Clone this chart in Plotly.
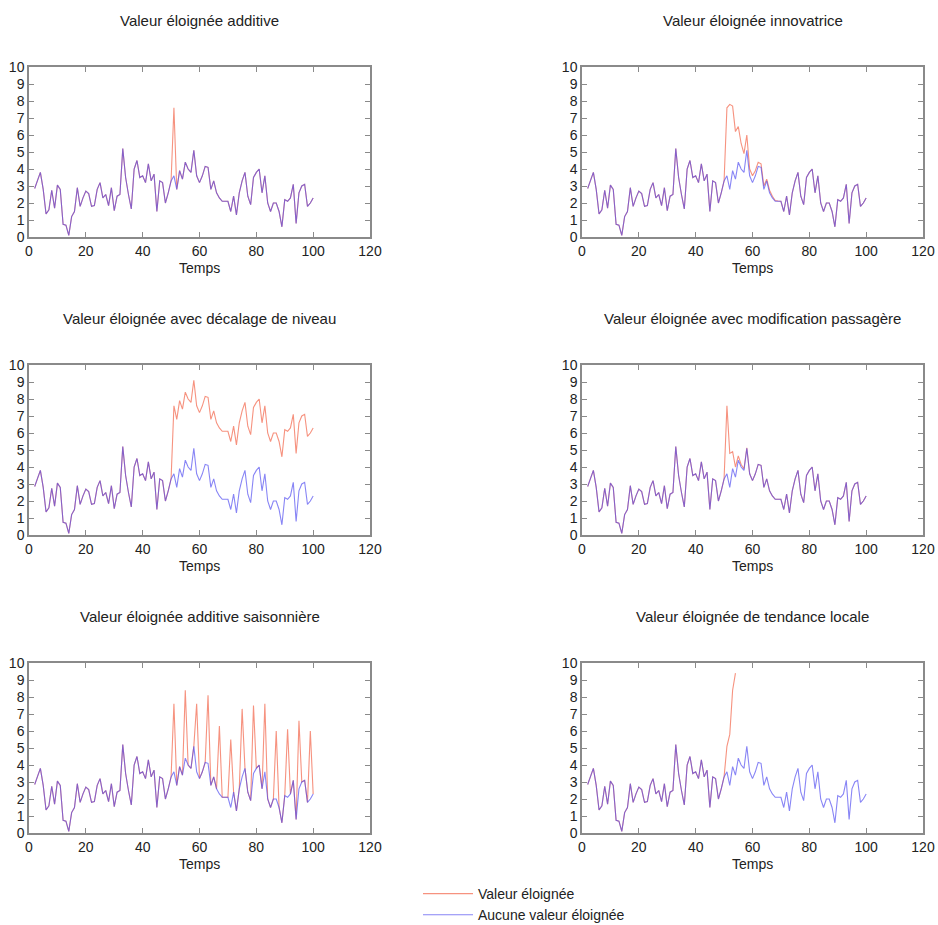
import plotly.graph_objects as go
from plotly.subplots import make_subplots

# time axis (t = 2 .. 100)
temps = list(range(2, 101))

# series without outlier
aucune = [
    2.85, 3.3, 3.8, 2.8, 1.35, 1.6, 2.75, 1.7, 3.05, 2.8,      # t2-11
    0.75, 0.7, 0.1, 1.2, 1.5, 2.9, 1.8, 2.3, 2.7, 2.55,       # t12-21
    1.8, 1.85, 2.8, 3.2, 2.3, 2.5, 1.85, 2.9, 1.55, 2.4,      # t22-31
    2.5, 5.2, 3.5, 2.5, 1.65, 4.0, 4.5, 3.5, 3.6, 3.2,        # t32-41
    4.3, 3.3, 3.7, 1.5, 3.3, 3.2, 2.0, 2.6, 3.3, 3.6,         # t42-51
    2.8, 3.9, 3.4, 4.4, 4.0, 3.8, 5.1, 3.6, 3.2, 3.6,         # t52-61
    4.15, 4.1, 2.8, 3.3, 2.6, 2.3, 2.1, 2.1, 2.1, 1.5,        # t62-71
    2.4, 1.3, 2.6, 3.3, 3.8, 2.4, 1.9, 3.5, 3.8, 4.0,         # t72-81
    2.6, 3.6, 2.0, 1.5, 2.0, 2.0, 1.5, 0.6, 2.2, 2.1,         # t82-91
    2.3, 3.1, 0.8, 2.6, 3.0, 3.1, 1.8, 2.0, 2.3,              # t92-100
]

# series with outlier, one per panel
additive = aucune[:49] + [7.6] + aucune[50:]
innovatrice = aucune[:49] + [
    7.6, 7.8, 7.7, 6.2, 6.5, 5.5, 4.9, 6.0, 4.0, 3.6,
    3.9, 4.4, 4.3, 3.0, 3.4, 2.75, 2.4, 2.15, 2.12,
] + aucune[68:]
decalage = aucune[:49] + [
    7.6, 6.8, 7.9, 7.4, 8.4, 8.0, 7.8, 9.1, 7.6, 7.2,
    7.6, 8.15, 8.1, 6.8, 7.3, 6.6, 6.3, 6.1, 6.1, 6.1,
    5.5, 6.4, 5.3, 6.6, 7.3, 7.8, 6.4, 5.9, 7.5, 7.8,
    8.0, 6.6, 7.6, 6.0, 5.5, 6.0, 6.0, 5.5, 4.6, 6.2,
    6.1, 6.3, 7.1, 4.8, 6.6, 7.0, 7.1, 5.8, 6.0, 6.3,
]
passagere = aucune[:49] + [7.6, 4.8, 4.9, 4.0, 4.65, 4.15, 3.9, 5.13] + aucune[57:]
saisonniere = aucune[:49] + [
    7.6, 2.8, 3.9, 3.4, 8.4, 4.0, 3.8, 5.1, 7.6, 3.2,
    3.6, 4.15, 8.1, 2.8, 3.3, 2.6, 6.3, 2.1, 2.1, 2.1,
    5.5, 2.4, 1.3, 2.6, 7.3, 3.8, 2.4, 1.9, 7.5, 3.8,
    4.0, 2.6, 7.6, 2.0, 1.5, 2.0, 6.0, 1.5, 0.6, 2.2,
    6.1, 2.3, 3.1, 0.8, 6.6, 3.0, 3.1, 1.8, 6.0, 2.3,
]
tendance = aucune[:49] + [5.1, 5.8, 8.4, 9.4]

titres = [
    "Valeur éloignée additive",
    "Valeur éloignée innovatrice",
    "Valeur éloignée avec décalage de niveau",
    "Valeur éloignée avec modification passagère",
    "Valeur éloignée additive saisonnière",
    "Valeur éloignée de tendance locale",
]
series_ve = [additive, innovatrice, decalage, passagere, saisonniere, tendance]

RED = "rgba(242,104,78,0.72)"
BLUE = "rgba(75,70,240,0.66)"
FONT = "Liberation Sans, Arial, sans-serif"

W, H = 938, 925
# plot areas in pixels (left, right) and (top, bottom)
cols_px = [(29, 370), (582, 923)]
rows_px = [(67, 237), (365, 535), (663, 833)]

fig = make_subplots(rows=3, cols=2)

for i, (titre, ve) in enumerate(zip(titres, series_ve)):
    r, c = i // 2 + 1, i % 2 + 1
    fig.add_trace(go.Scatter(
        x=temps[:len(ve)], y=ve, mode="lines", name="Valeur éloignée",
        line=dict(color=RED, width=1.1), showlegend=(i == 0),
    ), row=r, col=c)
    fig.add_trace(go.Scatter(
        x=temps, y=aucune, mode="lines", name="Aucune valeur éloignée",
        line=dict(color=BLUE, width=1.1), showlegend=(i == 0),
    ), row=r, col=c)

    x0, x1 = cols_px[c - 1]
    y0, y1 = rows_px[r - 1]
    n = "" if i == 0 else str(i + 1)
    fig.layout["xaxis" + n].domain = [x0 / W, x1 / W]
    fig.layout["yaxis" + n].domain = [1 - y1 / H, 1 - y0 / H]

    xc = (x0 + x1) / 2 / W
    fig.add_annotation(text=titre, x=xc, y=1 - (y0 - 47) / H, xref="paper", yref="paper",
                       xanchor="center", yanchor="middle", showarrow=False,
                       font=dict(size=15, color="#222", family=FONT))
    fig.add_annotation(text="Temps", x=xc, y=1 - (y1 + 31) / H, xref="paper", yref="paper",
                       xanchor="center", yanchor="middle", showarrow=False,
                       font=dict(size=14, color="#222", family=FONT))

axis_style = dict(showline=True, mirror="ticks", linecolor="#8a8a8a", linewidth=1.5,
                  ticks="inside", ticklen=5, tickcolor="#8a8a8a", showgrid=False,
                  zeroline=False, automargin=False,
                  tickfont=dict(size=14, color="#222", family=FONT))
fig.update_xaxes(range=[0, 120], dtick=20, **axis_style)
fig.update_yaxes(range=[0, 10], dtick=1, **axis_style)

fig.update_layout(
    width=W, height=H,
    margin=dict(l=0, r=0, t=0, b=0, autoexpand=False),
    plot_bgcolor="white", paper_bgcolor="white",
    font=dict(family=FONT, color="#222"),
    legend=dict(x=418 / W, xanchor="left", y=1 - 878 / H, yanchor="top",
                xref="container", yref="container",
                font=dict(size=14, color="#222"), bgcolor="rgba(0,0,0,0)",
                tracegroupgap=0, itemwidth=50),
)

# page margin off so the figure fills the window exactly
fig.write_html("out.html", config={"displayModeBar": False},
               post_script="document.body.style.margin='0';")
